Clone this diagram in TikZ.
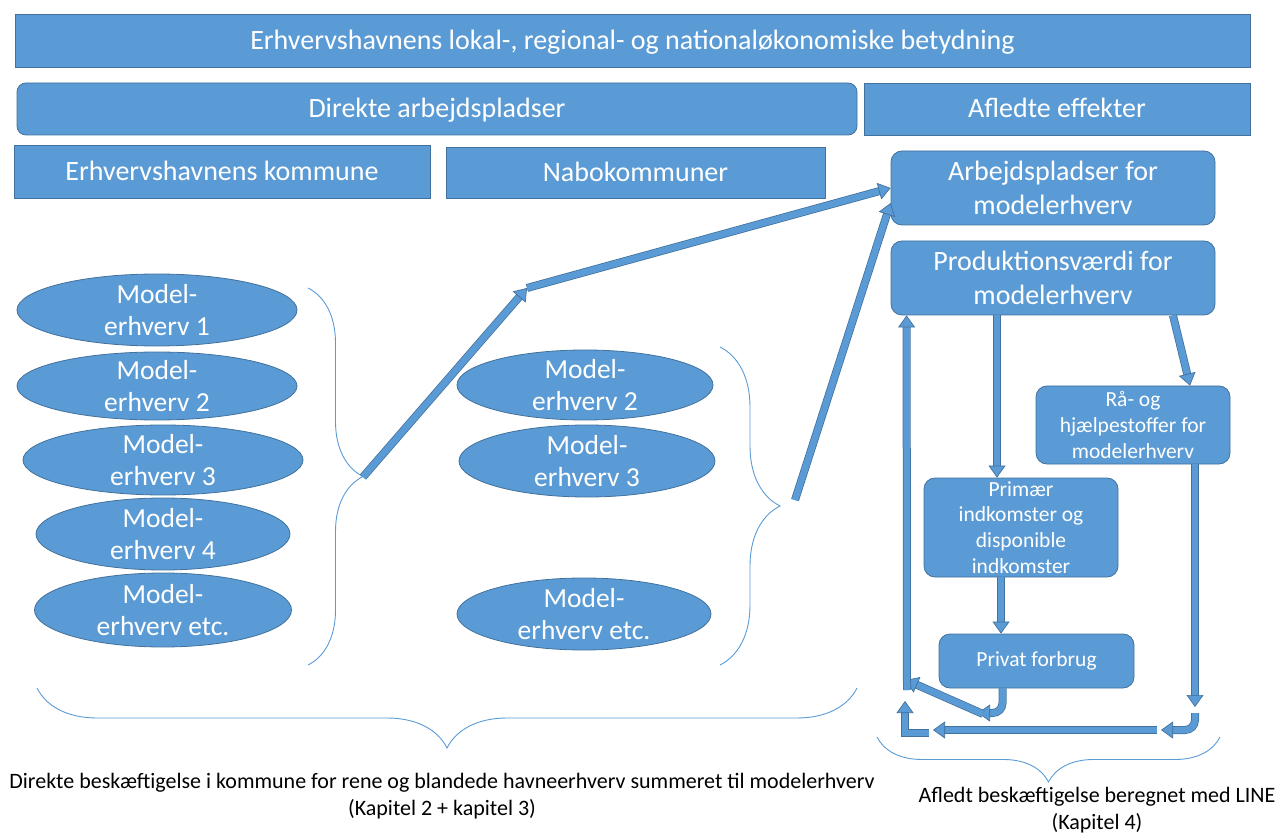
\documentclass[tikz,border=0pt]{standalone}
\usepackage{fontspec}
\setmainfont{Carlito}
\usetikzlibrary{arrows.meta, positioning, shapes.geometric, calc, decorations.pathreplacing}
\definecolor{cfill}{HTML}{5B9BD5}
\definecolor{cedge}{HTML}{41719C}
\tikzset{
  every picture/.style={line width=0.8pt},
  bar/.style={draw=cedge, fill=cfill, text=white, inner sep=0pt, minimum width=#1, minimum height=52pt, text height=21pt, text depth=3pt, font=\fontsize{28}{32}\selectfont},
  rbar/.style={bar=#1, rounded corners=9pt},
  box/.style={draw=cedge, fill=cfill, text=white, align=center, inner sep=0pt, rounded corners=11pt, minimum width=#1, font=\fontsize{28}{34}\selectfont},
  sbox/.style={box=#1, font=\fontsize{21.5}{25.8}\selectfont},
  modell/.style={ellipse, draw=cedge, fill=cfill, text=white, align=center, inner xsep=0pt, inner ysep=-8pt, minimum width=#1, minimum height=72pt, font=\fontsize{27.5}{32}\selectfont},
  brc/.style={draw=cfill, line width=0.9pt, decorate, decoration={brace, amplitude=#1}},
  flow/.style={draw=cfill, line width=6.5pt, -{Triangle[length=12pt, width=17pt, line width=0.7pt, color=cedge, fill=cfill]},
    preaction={draw=cedge, line width=8pt, -, shorten >=7pt}},
  note/.style={align=center, font=\fontsize{22}{26.5}\selectfont},
}
\begin{document}
\begin{tikzpicture}[x=1pt, y=-1pt]
  \useasboundingbox (0,0) rectangle (1278,834);
  % headings
  \node[bar=1235, minimum height=53pt] (top) at (632.5,40.5) {Erhvervshavnens lokal-, regional- og nationaløkonomiske betydning};
  \node[rbar=840] (dir) at (437,109) {Direkte arbejdspladser};
  \node[bar=386] (afl) at (1057,109) {Afledte effekter};
  \node[bar=416, minimum height=53pt] (kom) at (222,171.5) {Erhvervshavnens kommune};
  \node[bar=379, minimum height=51pt] (nabo) at (635.5,172.5) {Nabokommuner};
  % model industries
  \node[modell=280] (l1) at (157,310) {Model-\\erhverv 1};
  \node[modell=280, minimum height=68pt] (l2) at (157,386) {Model-\\erhverv 2};
  \node[modell=280, minimum height=70pt] (l3) at (163,460) {Model-\\erhverv 3};
  \node[modell=254] (l4) at (163,534) {Model-\\erhverv 4};
  \node[modell=257, minimum height=74pt] (l5) at (163,610) {Model-\\erhverv etc.};
  \node[modell=256, minimum height=70pt] (n2) at (585,385) {Model-\\erhverv 2};
  \node[modell=256] (n3) at (587,461) {Model-\\erhverv 3};
  \node[modell=254] (n5) at (584,614) {Model-\\erhverv etc.};
  % derived effects
  \node[box=324, minimum height=74pt] (arb) at (1053,188) {Arbejdspladser for\\modelerhverv};
  \node[box=324, minimum height=74pt] (prod) at (1053,278) {Produktionsværdi for\\modelerhverv};
  \node[sbox=194, minimum height=78pt] (raa) at (1133,425) {Rå- og\\hjælpestoffer for\\modelerhverv};
  \node[sbox=194, minimum height=99pt] (prim) at (1021,527.5) {Primær\\indkomster og\\disponible\\indkomster};
  \node[sbox=195, minimum height=54pt] (priv) at (1036.5,661) {Privat forbrug};
  % braces
  \draw[brc=55] (308,288) -- (308,665);
  \draw[brc=60] (720,347) -- (720,665);
  \draw[brc=60] (857,688) -- (37,688);
  \draw[brc=45] (1220,737) -- (877,737);
  \coordinate (lbt) at (363,477);
  \coordinate (knee) at (527,288);
  \coordinate (mbt) at (795,500);
  \coordinate (rd) at (1195,707);
  \coordinate (rc) at (1195,713);
  \coordinate (re) at (1161,730);
  \coordinate (hs) at (1157,730);
  \coordinate (he) at (933,730);
  \coordinate (ls) at (929,733);
  \coordinate (le) at (905,701);
  \coordinate (pe) at (978,713);
  \coordinate (ds) at (983,714);
  \coordinate (de) at (906,680);
  \coordinate (us) at (907,690);
  % flows
  \draw[flow] (lbt) -- (knee);
  \draw[flow] (knee) -- (arb.west);
  \draw[flow] (mbt) -- ([yshift=-15pt]arb.west);
  \draw[flow] ([xshift=-56pt]prod.south) -- ([xshift=-56pt]prod.south |- prim.north);
  \draw[flow] ([xshift=120pt]prod.south) -- ([xshift=57pt]raa.north);
  \draw[flow] ([xshift=-20pt]prim.south) -- ([xshift=-20pt]prim.south |- priv.north);
  \draw[flow] ([xshift=62pt]raa.south) -- (rd);
  \draw[flow, rounded corners=10pt] ([xshift=-34pt]priv.south) |- (pe);
  \draw[flow, rounded corners=10pt] (rc) |- (re);
  \draw[flow] (hs) -- (he);
  \draw[flow] (ls) -| (le);
  \draw[flow] (ds) -- (de);
  \draw[flow] (us) -- ([xshift=16pt]prod.south west);
  % captions
  \node[note] (capl) at (442,796) {Direkte beskæftigelse i kommune for rene og blandede havneerhverv summeret til modelerhverv\\(Kapitel 2 + kapitel 3)};
  \node[note] (capr) at (1097,810) {Afledt beskæftigelse beregnet med LINE\\(Kapitel 4)};
\end{tikzpicture}
\end{document}
